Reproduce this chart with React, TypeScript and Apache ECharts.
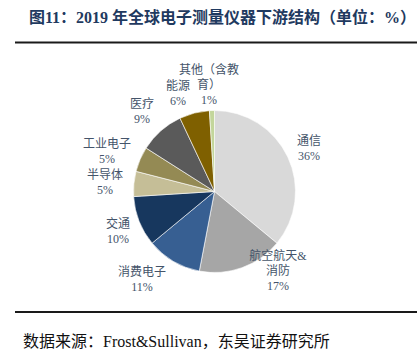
import React, { useEffect, useRef } from "react";
import * as echarts from "echarts";

const categories = ["通信", "航空航天&消防", "消费电子", "交通", "半导体", "工业电子", "医疗", "能源", "其他（含教育）"];
const labelTexts = ["通信", "航空航天&\n消防", "消费电子", "交通", "半导体", "工业电子", "医疗", "能源", "其他（含教\n育）"];
const values = [36, 17, 11, 10, 5, 5, 9, 6, 1];
const colors = ["#d9d9d9", "#a6a6a6", "#375f92", "#17375e", "#c5be97", "#948a54", "#5a5a5a", "#7f6000", "#c3d69b"];
// label anchor points (layout only)
const labelPositions: [number, number][] = [
  [309, 148], [278, 271], [142, 279], [118, 231], [105, 182], [107, 151], [142, 111], [178, 93], [209, 85],
];

const TITLE = "图11：2019 年全球电子测量仪器下游结构（单位：%）";
const SOURCE = "数据来源：Frost&Sullivan，东吴证券研究所";
const FONT = "'Liberation Serif', 'Noto Sans CJK SC', serif";

export default function App() {
  const ref = useRef<HTMLDivElement>(null);
  useEffect(() => {
    document.body.style.margin = "0";
    const chart = echarts.init(ref.current!, undefined, { renderer: "svg" });
    chart.setOption({
      animation: false,
      backgroundColor: "#ffffff",
      title: {
        text: TITLE,
        left: 24,
        top: 4,
        textStyle: { fontFamily: FONT, fontSize: 16, fontWeight: "bold", color: "#1f3a60" },
      },
      graphic: [
        { type: "line", shape: { x1: 15, y1: 42.5, x2: 417, y2: 42.5 }, style: { stroke: "#1a1a1a", lineWidth: 2 } },
        { type: "line", shape: { x1: 15, y1: 312, x2: 417, y2: 312 }, style: { stroke: "#1a1a1a", lineWidth: 2 } },
        {
          type: "text",
          x: 23,
          y: 341,
          style: { text: SOURCE, fontFamily: FONT, fontSize: 16, fill: "#111", verticalAlign: "middle" },
        },
      ],
      series: [
        {
          type: "pie",
          center: [214.5, 191.5],
          radius: 81,
          startAngle: 90,
          clockwise: true,
          avoidLabelOverlap: false,
          itemStyle: { borderColor: "#ffffff", borderWidth: 0.6 },
          labelLine: { show: false },
          label: {
            show: true,
            position: "outside",
            fontFamily: FONT,
            fontSize: 12,
            lineHeight: 15,
            color: "#44546a",
            align: "center",
            formatter: (p: any) => `${labelTexts[p.dataIndex]}\n${p.value}%`,
          },
          labelLayout: (p: any) => ({
            x: labelPositions[p.dataIndex][0],
            y: labelPositions[p.dataIndex][1],
            align: "center",
            verticalAlign: "middle",
          }),
          data: categories.map((c, i) => ({ name: c, value: values[i], itemStyle: { color: colors[i] } })),
        },
      ],
    });
    return () => chart.dispose();
  }, []);
  return <div ref={ref} style={{ width: 417, height: 362 }} />;
}
